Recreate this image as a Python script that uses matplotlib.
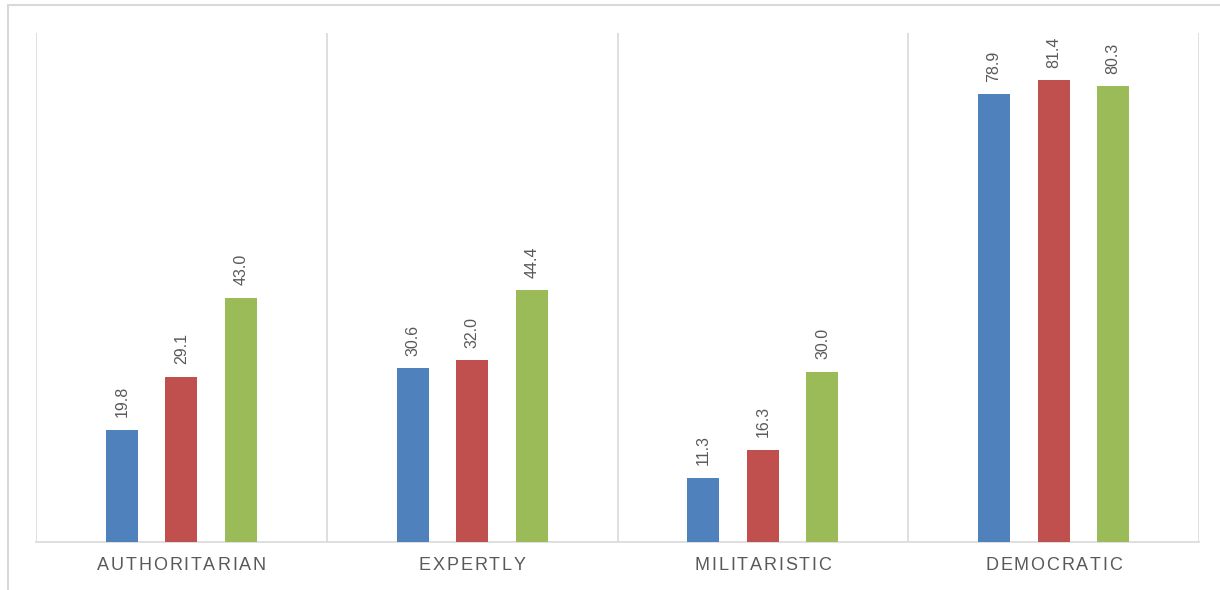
import numpy as np
import matplotlib.pyplot as plt
from matplotlib.patches import Rectangle
from matplotlib.transforms import blended_transform_factory, offset_copy

categories = ["AUTHORITARIAN", "EXPERTLY", "MILITARISTIC", "DEMOCRATIC"]
series_1 = [19.8, 30.6, 11.3, 78.9]
series_2 = [29.1, 32.0, 16.3, 81.4]
series_3 = [43.0, 44.4, 30.0, 80.3]

colors = ["#4F81BD", "#C0504D", "#9BBB59"]
grid_col = "#D9D9D9"
text_col = "#595959"
plt.rcParams['font.family'] = ['Liberation Sans', 'DejaVu Sans']

W, H = 1220, 590
fig = plt.figure(figsize=(W / 100, H / 100), dpi=100)
ax = fig.add_axes([36 / W, (H - 542) / H, (1199 - 36) / W, (542 - 33) / H])
renderer = fig.canvas.get_renderer()

# outer chart border (only left and top edges visible in the crop)
fig.patches.append(Rectangle((8 / W, -0.1), 1.2, (H - 5) / H + 0.1,
                             transform=fig.transFigure, fill=False,
                             edgecolor="#D9D9D9", linewidth=1.5))


def spaced_label(xv, s, fs, spacing, dy):
    # category label drawn char by char to mimic letter spacing (pixels)
    trans = blended_transform_factory(ax.transData, ax.transAxes)
    ws = []
    for ch in s:
        t = fig.text(0, 0, ch, fontsize=fs)
        ws.append(t.get_window_extent(renderer).width)
        t.remove()
    total = sum(ws) + spacing * (len(s) - 1)
    cur = -total / 2
    for ch, w in zip(s, ws):
        tr = offset_copy(trans, fig=fig, x=cur * 0.72, y=dy * 0.72,
                         units="points")
        ax.text(xv, 0, ch, transform=tr, fontsize=fs, color=text_col,
                ha="left", va="center")
        cur += w + spacing


x = np.arange(len(categories))
width = 0.11
step = 0.205
for i, vals in enumerate([series_1, series_2, series_3]):
    pos = x + (i - 1) * step
    bars = ax.bar(pos, vals, width, color=colors[i], zorder=3)
    for b, v in zip(bars, vals):
        ax.annotate(f"{v:.1f}", (b.get_x() + b.get_width() / 2, v),
                    xytext=(0, 9), textcoords="offset points",
                    rotation=90, ha="center", va="bottom",
                    fontsize=11.5, color=text_col)

ax.set_xlim(-0.5, len(categories) - 0.5)
ax.set_ylim(0, 89.7)

# category separators
for s in np.arange(-0.5, len(categories), 1.0):
    ax.axvline(s, color=grid_col, linewidth=1.2, zorder=1)

for side in ["top", "right", "left"]:
    ax.spines[side].set_visible(False)
ax.spines["bottom"].set_color(grid_col)
ax.spines["bottom"].set_linewidth(1.2)

ax.set_yticks([])
ax.set_xticks([])

for xi, cat in zip(x, categories):
    spaced_label(xi, cat, 13, 1.8, -23)

fig.savefig("out.png", dpi=100)
